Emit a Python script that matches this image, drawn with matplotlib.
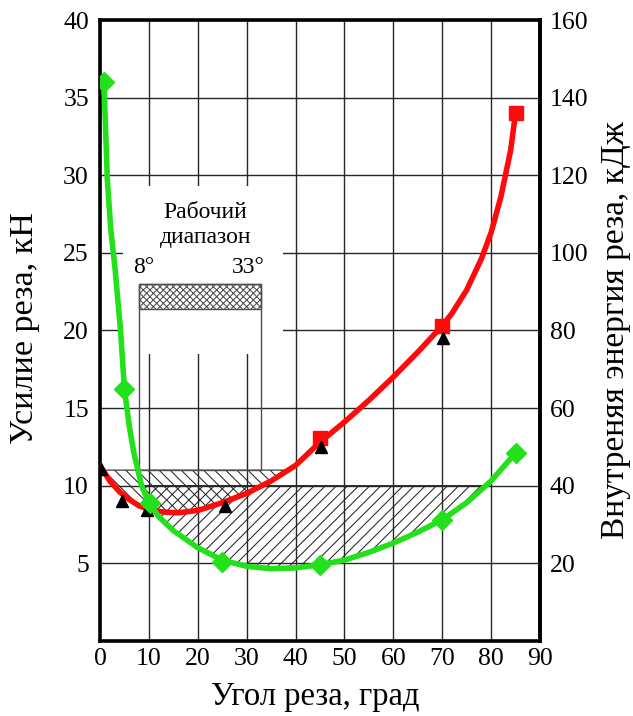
import matplotlib
matplotlib.use('Agg')
import matplotlib.pyplot as plt
from matplotlib.patches import Rectangle

plt.rcParams['font.family'] = ['Liberation Serif', 'DejaVu Serif']
plt.rcParams['hatch.linewidth'] = 0.75

# curves (left axis units)
red_x = [0, 2, 4, 6, 8, 10, 13, 16, 20, 25, 30, 35, 40, 45, 50, 55, 60, 65, 70, 72, 75, 78, 80, 82, 84, 85]
red_y = [11.3, 10.3, 9.6, 9.1, 8.7, 8.45, 8.3, 8.25, 8.4, 8.9, 9.5, 10.3, 11.3, 12.8, 14.1, 15.5, 17.0, 18.6, 20.3, 21.1, 22.6, 24.6, 26.3, 28.6, 31.6, 34.0]
green_x = [0.8, 1.5, 2.2, 3.1, 4.2, 5.0, 6.0, 7.0, 8.5, 10, 12, 15, 20, 25, 30, 35, 40, 45, 50, 55, 60, 65, 70, 75, 80, 85]
green_y = [36.0, 29.7, 26.5, 23.9, 20.0, 16.2, 13.8, 12.0, 10.0, 8.9, 8.0, 7.1, 6.0, 5.2, 4.8, 4.65, 4.7, 4.9, 5.2, 5.7, 6.3, 7.0, 7.8, 8.9, 10.3, 12.1]

# markers
sq_x = [45, 70, 85]
sq_y = [13.1, 20.3, 34.0]
tri_x = [0.3, 4.5, 9.6, 25.5, 45.3, 70.2]
tri_y = [11.1, 9.0, 8.4, 8.7, 12.5, 19.5]
dia_x = [0.8, 5.0, 10.2, 25, 45, 70, 85]
dia_y = [36.0, 16.2, 8.9, 5.1, 4.9, 7.8, 12.1]

x_ticks = list(range(0, 91, 10))
left_ticks = [5, 10, 15, 20, 25, 30, 35, 40]
right_ticks = [20, 40, 60, 80, 100, 120, 140, 160]

fig = plt.figure(figsize=(6.33, 7.16), dpi=100)
ax = fig.add_axes([0.158, 0.105, 0.695, 0.867])
ax.set_xlim(0, 90)
ax.set_ylim(0, 40)
ax.set_axisbelow(True)
ax.grid(True, color='0.15', linewidth=1.0)
ax.set_xticks(x_ticks)
ax.set_yticks(left_ticks)
ax.tick_params(length=0, labelsize=18.5)
ax.tick_params(axis='y', pad=8)
ax.tick_params(axis='x', pad=5)
for s in ax.spines.values():
    s.set_linewidth(2.6)

sec = ax.secondary_yaxis('right', functions=(lambda v: v * 4, lambda v: v / 4))
sec.set_yticks(right_ticks)
sec.tick_params(length=0, labelsize=18.5, pad=7)
sec.spines['right'].set_linewidth(2.6)

# white patch behind the label
ax.add_patch(Rectangle((4.7, 18.5), 32.7, 10.8, facecolor='white', edgecolor='none', zorder=1))

# hatched regions
ax.fill_between(red_x, red_y, 11, where=[v < 11 for v in red_y], interpolate=True,
                facecolor='none', edgecolor='0.15', hatch='\\\\\\', linewidth=0.8, zorder=1.5)
ax.fill_between(green_x, green_y, 10, where=[v < 10 for v in green_y], interpolate=True,
                facecolor='none', edgecolor='0.15', hatch='///', linewidth=0.8, zorder=1.5)

# working range box
ax.add_patch(Rectangle((8, 11), 25, 12, facecolor='none', edgecolor='0.3', linewidth=1.0, zorder=1.6))
ax.add_patch(Rectangle((8, 21.35), 25, 1.65, facecolor='none', edgecolor='0.3',
                       hatch='xxxxx', linewidth=1.0, zorder=1.6))

ax.text(21.6, 26.8, 'Рабочий\nдиапазон', ha='center', va='center', fontsize=17, linespacing=1.2)
ax.text(9.0, 23.4, '8°', ha='center', va='bottom', fontsize=17)
ax.text(33.8, 23.4, '33°', ha='right', va='bottom', fontsize=17)

ax.plot(red_x, red_y, color='#ff0a0a', linewidth=4, zorder=3, solid_capstyle='round')
ax.plot(sq_x, sq_y, 's', color='#ff0a0a', markersize=10, zorder=4)
ax.plot(tri_x, tri_y, '^', color='black', markersize=8, zorder=4)
ax.plot(green_x, green_y, color='#22e01a', linewidth=4, zorder=3.5, solid_capstyle='round')
ax.plot(dia_x, dia_y, 'D', color='#22e01a', markersize=10, zorder=4.5)

ax.set_xlabel('Угол реза, град', fontsize=23.5)
ax.xaxis.set_label_coords(0.49, -0.066)
ax.set_ylabel('Усилие реза, кН', fontsize=24.5)
ax.yaxis.set_label_coords(-0.136, 0.504)
sec.set_ylabel('Внутреняя энергия реза, кДж', fontsize=24, labelpad=9)

fig.savefig('out.png', dpi=100)
